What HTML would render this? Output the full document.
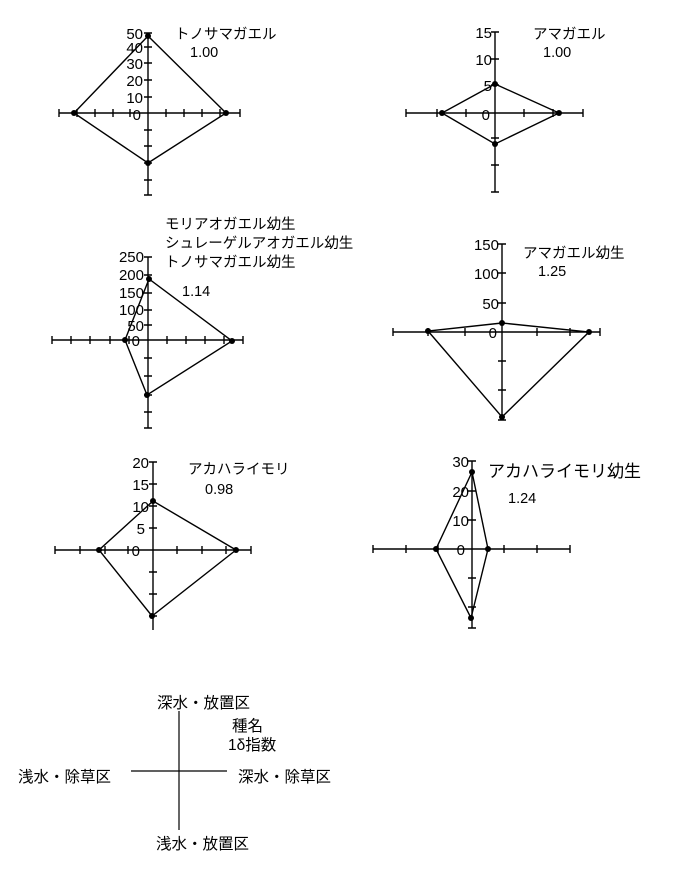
<!DOCTYPE html>
<html><head><meta charset="utf-8"><style>
html,body{margin:0;padding:0;background:#fff;}
svg{display:block;}
text{font-family:"Liberation Sans","Noto Sans CJK JP",sans-serif;fill:#000;}
.n{font-size:15px;}
.t{font-size:14.5px;}
.l{font-size:15.5px;}
</style></head><body>
<svg width="675" height="885" viewBox="0 0 675 885" xmlns="http://www.w3.org/2000/svg">
<g stroke="#000" stroke-width="1.4" fill="none">
<!-- Chart 1 -->
<path d="M148 33V195M59 113H240"/>
<path d="M144 33h8M144 47h8M144 63h8M144 80h8M144 97h8M144 130h8M144 146h8M144 163h8M144 180h8M144 195h8"/>
<path d="M59 109v8M77 109v8M95 109v8M113 109v8M130 109v8M166 109v8M184 109v8M202 109v8M220 109v8M240 109v8"/>
<path d="M148 36L74 113L148 163L226 113Z"/>
<!-- Chart 2 -->
<path d="M495 32V192M406 113H583"/>
<path d="M491 32h8M491 59h8M491 85h8M491 138h8M491 165h8M491 192h8"/>
<path d="M406 109v8M437 109v8M466 109v8M524 109v8M553 109v8M583 109v8"/>
<path d="M495 84L442 113L495 144L559 113Z"/>
<!-- Chart 3 -->
<path d="M148 257V428M52 340H243"/>
<path d="M144 257h8M144 275h8M144 293h8M144 310h8M144 325h8M144 358h8M144 376h8M144 395h8M144 412h8M144 428h8"/>
<path d="M52 336v8M71 336v8M90 336v8M110 336v8M129 336v8M167 336v8M186 336v8M205 336v8M224 336v8M243 336v8"/>
<path d="M149 279L125 340L147 395L232 341Z"/>
<!-- Chart 4 -->
<path d="M502 244V420M393 332H600"/>
<path d="M498 244h8M498 273h8M498 303h8M498 361h8M498 390h8M498 420h8"/>
<path d="M393 328v8M428 328v8M465 328v8M537 328v8M570 328v8M600 328v8"/>
<path d="M502 323L428 331L502 417L589 332Z"/>
<!-- Chart 5 -->
<path d="M153 462V630M55 550H251"/>
<path d="M149 462h8M149 484h8M149 506h8M149 528h8M149 572h8M149 594h8M149 616h8"/>
<path d="M55 546v8M80 546v8M105 546v8M128 546v8M177 546v8M202 546v8M226 546v8M251 546v8"/>
<path d="M153 501L99 550L152 616L236 550Z"/>
<!-- Chart 6 -->
<path d="M472 461V628M373 549H570"/>
<path d="M468 461h8M468 491h8M468 520h8M468 578h8M468 607h8M468 628h8"/>
<path d="M373 545v8M406 545v8M438 545v8M504 545v8M537 545v8M570 545v8"/>
<path d="M472 472L436 549L471 618L488 549Z"/>
<!-- Legend -->
<path d="M179 711V830M131 771H227" stroke-width="1.2"/>
</g>
<g fill="#000">
<circle cx="148" cy="36" r="3"/><circle cx="74" cy="113" r="3"/><circle cx="148" cy="163" r="3"/><circle cx="226" cy="113" r="3"/>
<circle cx="495" cy="84" r="3"/><circle cx="442" cy="113" r="3"/><circle cx="495" cy="144" r="3"/><circle cx="559" cy="113" r="3"/>
<circle cx="149" cy="279" r="3"/><circle cx="125" cy="340" r="3"/><circle cx="147" cy="395" r="3"/><circle cx="232" cy="341" r="3"/>
<circle cx="502" cy="323" r="3"/><circle cx="428" cy="331" r="3"/><circle cx="502" cy="417" r="3"/><circle cx="589" cy="332" r="3"/>
<circle cx="153" cy="501" r="3"/><circle cx="99" cy="550" r="3"/><circle cx="152" cy="616" r="3"/><circle cx="236" cy="550" r="3"/>
<circle cx="472" cy="472" r="3"/><circle cx="436" cy="549" r="3"/><circle cx="471" cy="618" r="3"/><circle cx="488" cy="549" r="3"/>
</g>
<g class="n" text-anchor="end">
<text x="143" y="39">50</text><text x="143" y="53">40</text><text x="143" y="69">30</text><text x="143" y="86">20</text><text x="143" y="103">10</text><text x="141" y="120">0</text>
<text x="492" y="38">15</text><text x="492" y="65">10</text><text x="492" y="91">5</text><text x="490" y="120">0</text>
<text x="144" y="262">250</text><text x="144" y="280">200</text><text x="144" y="298">150</text><text x="144" y="315">100</text><text x="144" y="331">50</text><text x="140" y="346">0</text>
<text x="499" y="250">150</text><text x="499" y="279">100</text><text x="499" y="309">50</text><text x="497" y="338">0</text>
<text x="149" y="468">20</text><text x="149" y="490">15</text><text x="149" y="512">10</text><text x="145" y="534">5</text><text x="140" y="556">0</text>
<text x="469" y="467">30</text><text x="469" y="497">20</text><text x="469" y="526">10</text><text x="465" y="555">0</text>
</g>
<text class="t" x="175" y="39">トノサマガエル</text><text class="t" x="190" y="57">1.00</text>
<text class="t" x="533" y="39">アマガエル</text><text class="t" x="543" y="57">1.00</text>
<text class="t" x="165" y="229">モリアオガエル幼生</text>
<text class="t" x="165" y="248">シュレーゲルアオガエル幼生</text>
<text class="t" x="165" y="267">トノサマガエル幼生</text>
<text class="t" x="182" y="296">1.14</text>
<text class="t" x="523" y="258">アマガエル幼生</text><text class="t" x="538" y="276">1.25</text>
<text class="t" x="188" y="474">アカハライモリ</text><text class="t" x="205" y="494">0.98</text>
<text x="488" y="477" style="font-size:17px">アカハライモリ幼生</text><text class="t" x="508" y="503">1.24</text>
<text class="l" x="157" y="708">深水・放置区</text>
<text class="l" x="232" y="731">種名</text>
<text class="l" x="228" y="750">1δ指数</text>
<text class="l" x="18" y="782">浅水・除草区</text>
<text class="l" x="238" y="782">深水・除草区</text>
<text class="l" x="156" y="849">浅水・放置区</text>
</svg>
</body></html>
